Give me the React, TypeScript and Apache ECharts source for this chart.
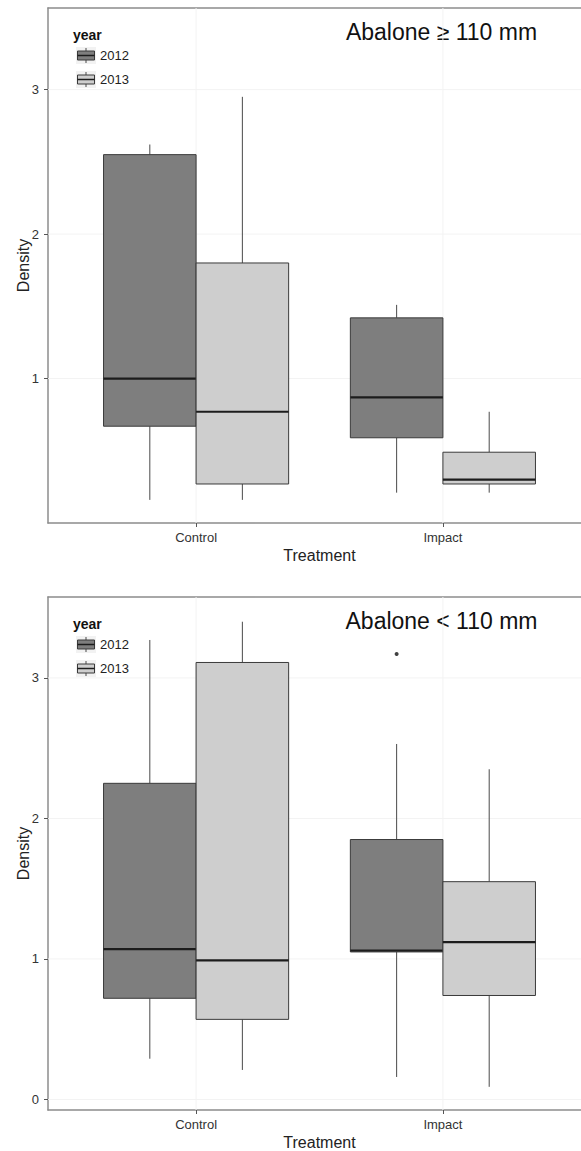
import React, { useEffect, useRef } from 'react';
import * as echarts from 'echarts';

const treatments = ['Control', 'Impact'];
const years = ['2012', '2013'];
const panelTitles = ['Abalone \u2265 110 mm', 'Abalone < 110 mm'];

// Five-number summaries per treatment: [lower whisker, Q1, median, Q3, upper whisker]
const large2012 = [
  [0.16, 0.67, 1.0, 2.55, 2.62],
  [0.21, 0.59, 0.87, 1.42, 1.51],
];
const large2013 = [
  [0.16, 0.27, 0.77, 1.8, 2.95],
  [0.21, 0.27, 0.3, 0.49, 0.77],
];
const small2012 = [
  [0.29, 0.72, 1.07, 2.25, 3.27],
  [0.16, 1.05, 1.06, 1.85, 2.53],
];
const small2013 = [
  [0.21, 0.57, 0.99, 3.11, 3.4],
  [0.09, 0.74, 1.12, 1.55, 2.35],
];

// Outliers: [treatment index, year index, value]
const largeOutliers: number[][] = [];
const smallOutliers = [[1, 0, 3.17]];

const largeYTicks = [1, 2, 3];
const smallYTicks = [0, 1, 2, 3];
const xTicks = [1, 2];

const yearFills = ['#7e7e7e', '#cecece'];
const FONT = '"Liberation Sans", Arial, Helvetica, sans-serif';
const DODGE = 0.375;
const FRAME = { color: '#8c8c8c', width: 1.5 };
const GRID_COLOR = '#f3f3f3';

function boxRows(by2012: number[][], by2013: number[][]) {
  const rows: number[][] = [];
  treatments.forEach((_, ti) => {
    rows.push([ti + 1, 0, ...by2012[ti]]);
    rows.push([ti + 1, 1, ...by2013[ti]]);
  });
  return rows;
}

function outlierPoints(list: number[][]) {
  return list.map(([ti, yi, v]) => [ti + 1 + (yi - 0.5) * DODGE, v]);
}

const renderBox = (params: any, api: any) => {
  const pos = api.value(0) as number;
  const yi = api.value(1) as number;
  const lo = api.value(2), q1 = api.value(3), med = api.value(4), q3 = api.value(5), hi = api.value(6);
  const cx = pos + (yi - 0.5) * DODGE;
  const left = api.coord([cx - DODGE / 2, q3]);
  const right = api.coord([cx + DODGE / 2, q1]);
  const xc = api.coord([cx, 0])[0];
  const y = (v: number) => api.coord([cx, v])[1];
  return {
    type: 'group',
    children: [
      { type: 'line', shape: { x1: xc, y1: y(q3), x2: xc, y2: y(hi) }, style: { stroke: '#4a4a4a', lineWidth: 1 } },
      { type: 'line', shape: { x1: xc, y1: y(q1), x2: xc, y2: y(lo) }, style: { stroke: '#4a4a4a', lineWidth: 1 } },
      {
        type: 'rect',
        shape: { x: left[0], y: left[1], width: right[0] - left[0], height: right[1] - left[1] },
        style: { fill: yearFills[yi], stroke: '#3a3a3a', lineWidth: 1 },
      },
      { type: 'line', shape: { x1: left[0], y1: y(med), x2: right[0], y2: y(med) }, style: { stroke: '#1c1c1c', lineWidth: 2.2 } },
    ],
  };
};

// horizontal gridline across the panel at a y tick
const renderHGrid = (params: any, api: any) => {
  const cs = params.coordSys;
  const yy = api.coord([api.value(0), api.value(1)])[1];
  return { type: 'line', shape: { x1: cs.x, y1: yy, x2: cs.x + cs.width, y2: yy }, style: { stroke: GRID_COLOR, lineWidth: 1 } };
};

// vertical gridline through the panel at an x tick
const renderVGrid = (params: any, api: any) => {
  const cs = params.coordSys;
  const xx = api.coord([api.value(0), api.value(1)])[0];
  return { type: 'line', shape: { x1: xx, y1: cs.y, x2: xx, y2: cs.y + cs.height }, style: { stroke: GRID_COLOR, lineWidth: 1 } };
};

function legendGraphics(offsetY: number) {
  const els: any[] = [
    { type: 'text', x: 73, y: 35 + offsetY, style: { text: 'year', font: `bold 14px ${FONT}`, fill: '#111', align: 'left', verticalAlign: 'middle' } },
  ];
  years.forEach((yr, i) => {
    const ky = 47 + offsetY + i * 24;
    els.push(
      { type: 'rect', shape: { x: 76, y: ky, width: 20, height: 17 }, style: { fill: '#f2f2f2' } },
      { type: 'line', shape: { x1: 86, y1: ky + 1, x2: 86, y2: ky + 4 }, style: { stroke: '#4a4a4a', lineWidth: 1 } },
      { type: 'line', shape: { x1: 86, y1: ky + 13, x2: 86, y2: ky + 16 }, style: { stroke: '#4a4a4a', lineWidth: 1 } },
      { type: 'rect', shape: { x: 77.5, y: ky + 4, width: 17, height: 9 }, style: { fill: yearFills[i], stroke: '#3a3a3a', lineWidth: 1 } },
      { type: 'line', shape: { x1: 77.5, y1: ky + 8.5, x2: 94.5, y2: ky + 8.5 }, style: { stroke: '#1c1c1c', lineWidth: 1.5 } },
      { type: 'text', x: 100, y: ky + 8.5, style: { text: yr, font: `13px ${FONT}`, fill: '#222', align: 'left', verticalAlign: 'middle' } }
    );
  });
  return els;
}

export default function App() {
  const ref = useRef<HTMLDivElement>(null);

  useEffect(() => {
    if (!ref.current) return;
    const chart = echarts.init(ref.current, undefined, { renderer: 'svg' });

    const panels = [
      { top: 8, height: 515, min: 0, max: 3.565, ticks: largeYTicks, rows: boxRows(large2012, large2013), outliers: largeOutliers },
      { top: 597, height: 513, min: -0.075, max: 3.576, ticks: smallYTicks, rows: boxRows(small2012, small2013), outliers: smallOutliers },
    ];

    // the panels run past the visible right edge, which the wrapper crops
    const grids = panels.map((p) => ({
      left: 48,
      top: p.top,
      width: 543,
      height: p.height,
      outerBoundsMode: 'none',
      containLabel: false,
      show: false,
    }));

    const xAxes: any[] = [];
    panels.forEach((_, i) => {
      xAxes.push({
        type: 'value',
        gridIndex: i,
        position: 'bottom',
        min: 0.4,
        max: 2.6,
        name: 'Treatment',
        nameLocation: 'middle',
        nameGap: 24,
        nameTextStyle: { fontSize: 16, fontFamily: FONT, color: '#222' },
        axisLine: { show: true, onZero: false, lineStyle: FRAME },
        splitLine: { show: false },
        axisTick: { show: true, length: 4, customValues: xTicks, lineStyle: { color: '#555' } },
        axisLabel: {
          customValues: xTicks,
          formatter: (v: number) => treatments[Math.round(v) - 1] ?? '',
          fontSize: 13,
          fontFamily: FONT,
          color: '#333',
          margin: 8,
        },
      });
      // top edge of the panel frame
      xAxes.push({
        type: 'value',
        gridIndex: i,
        position: 'top',
        min: 0.4,
        max: 2.6,
        axisLine: { show: true, onZero: false, lineStyle: FRAME },
        axisTick: { show: false },
        axisLabel: { show: false },
        splitLine: { show: false },
      });
    });

    const yAxes = panels.map((p, i) => ({
      type: 'value',
      gridIndex: i,
      min: p.min,
      max: p.max,
      name: 'Density',
      nameLocation: 'middle',
      nameGap: 17,
      nameRotate: 90,
      nameMoveOverlap: false,
      nameTextStyle: { fontSize: 16, fontFamily: FONT, color: '#222' },
      axisLine: { show: true, onZero: false, lineStyle: FRAME },
      splitLine: { show: false },
      axisTick: { show: true, length: 4, customValues: p.ticks, lineStyle: { color: '#555' } },
      axisLabel: {
        customValues: p.ticks,
        formatter: (v: number) => String(v),
        fontSize: 13,
        fontFamily: FONT,
        color: '#333',
        margin: 9,
      },
    }));

    const series: any[] = [];
    panels.forEach((p, i) => {
      series.push({ type: 'custom', xAxisIndex: i * 2, yAxisIndex: i, z: 1, silent: true, renderItem: renderHGrid, encode: { x: 0, y: 1 }, data: p.ticks.map((v) => [xTicks[0], v]) });
      series.push({ type: 'custom', xAxisIndex: i * 2, yAxisIndex: i, z: 1, silent: true, renderItem: renderVGrid, encode: { x: 0, y: 1 }, data: xTicks.map((v) => [v, p.ticks[0]]) });
      series.push({ type: 'custom', xAxisIndex: i * 2, yAxisIndex: i, z: 3, renderItem: renderBox, encode: { x: 0, y: [2, 3, 4, 5, 6] }, data: p.rows });
      series.push({
        type: 'scatter',
        xAxisIndex: i * 2,
        yAxisIndex: i,
        z: 4,
        symbol: 'circle',
        symbolSize: 4,
        itemStyle: { color: '#111' },
        data: outlierPoints(p.outliers),
      });
    });

    const graphic: any[] = [
      ...legendGraphics(0),
      ...legendGraphics(589),
      ...panelTitles.map((t, i) => ({
        type: 'text',
        x: 441.5,
        y: 32 + i * 589,
        style: { text: t, font: `23px ${FONT}`, fill: '#111', align: 'center', verticalAlign: 'middle' },
      })),
    ];

    chart.setOption({ animation: false, backgroundColor: '#ffffff', grid: grids, xAxis: xAxes, yAxis: yAxes, series, graphic });

    return () => chart.dispose();
  }, []);

  return (
    <div style={{ position: 'absolute', left: 0, top: 0, width: 581, height: 1151, overflow: 'hidden', background: '#ffffff' }}>
      <div ref={ref} style={{ width: 620, height: 1151 }} />
    </div>
  );
}
